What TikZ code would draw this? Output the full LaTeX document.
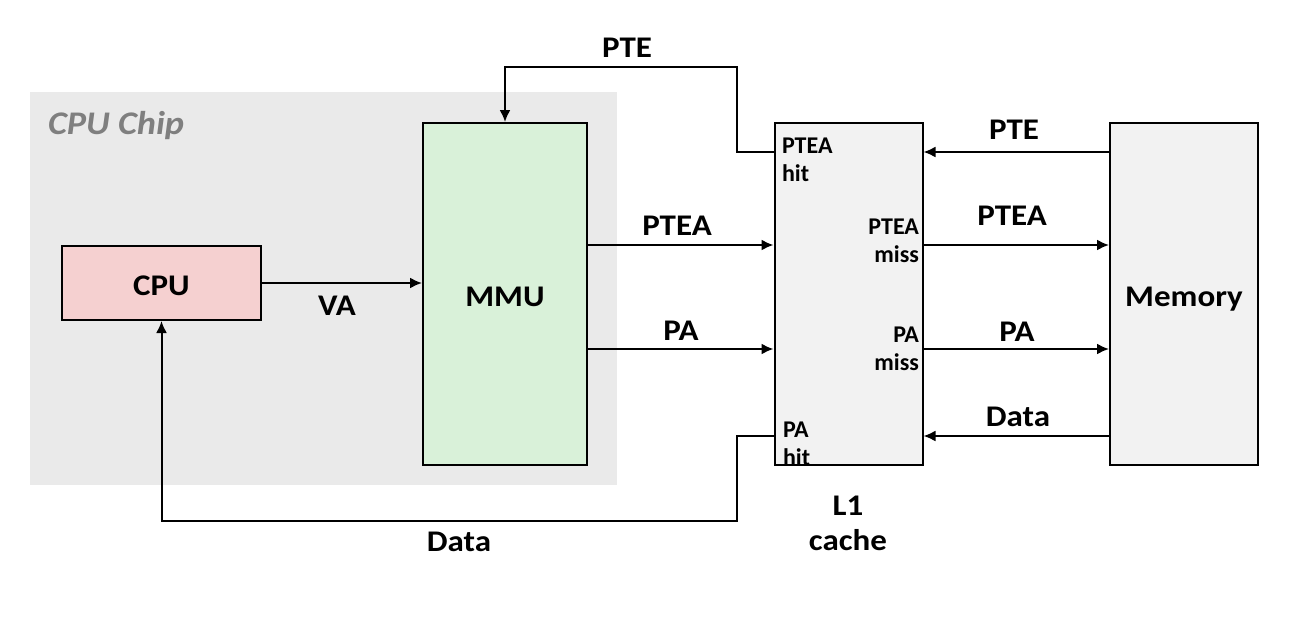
\documentclass[tikz,border=0pt]{standalone}
\usepackage{fontspec}
\setmainfont{Carlito}
\newfontfamily\widefont{Carlito}[FakeStretch=1.1]
\usetikzlibrary{arrows.meta}
\definecolor{chipgray}{HTML}{EAEAEA}
\definecolor{chiptext}{HTML}{7F7F7F}
\definecolor{cpupink}{HTML}{F5D0D0}
\definecolor{mmugreen}{HTML}{D9F1D9}
\definecolor{boxgray}{HTML}{F2F2F2}

\begin{document}
\begin{tikzpicture}[x=1pt, y=-1pt, line width=2pt,
	every node/.style={inner sep=0pt, font=\widefont\fontsize{30}{35}\selectfont\bfseries},
	unit/.style={draw=black, line width=2pt, rectangle, fill=boxgray, text height=25pt, text depth=0pt},
	tag/.style={font=\fontsize{24}{28}\selectfont\bfseries, align=left},
	link/.style={-{Latex[length=12pt, width=11pt]}}]
			\useasboundingbox (0,0) rectangle (1296,619);
			\fill[chipgray] (30,92) rectangle (617,485);
			\node[text=chiptext, anchor=base west, font=\widefont\fontsize{33}{38}\selectfont\bfseries\itshape] (chip) at (47,134) {CPU Chip};
			
			\node[unit, fill=cpupink, minimum width=199pt, minimum height=74pt] (cpu) at (161.5,283) {CPU};
			\node[unit, fill=mmugreen, minimum width=164pt, minimum height=342pt] (mmu) at (505,294) {MMU};
			\node[unit, minimum width=148pt, minimum height=342pt] (l1) at (848.5,294) {};
			\node[unit, minimum width=148pt, minimum height=342pt] (mem) at (1184,294) {Memory};
			
			\coordinate (pteY) at (0,152);
			\coordinate (pteaY) at (0,245);
			\coordinate (paY) at (0,349);
			\coordinate (dataY) at (0,436);
			\coordinate (pteTurn) at (737,67);
			\coordinate (dataTurn) at (737,521);
			
			\draw[link] (cpu.east) -- (mmu.west |- cpu.east);
			\draw[link] (mmu.east |- pteaY) -- (l1.west |- pteaY);
			\draw[link] (mmu.east |- paY) -- (l1.west |- paY);
			\draw[link] (l1.west |- pteY) -| (pteTurn) -| (mmu.north);
			\draw[link] (l1.west |- dataY) -| (dataTurn) -| (cpu.south);
			\draw[link] (mem.west |- pteY) -- (l1.east |- pteY);
			\draw[link] (l1.east |- pteaY) -- (mem.west |- pteaY);
			\draw[link] (l1.east |- paY) -- (mem.west |- paY);
			\draw[link] (mem.west |- dataY) -- (l1.east |- dataY);
			
			\node[anchor=base] (pteback) at (627,57) {PTE};
			\node[anchor=base] (va) at (337,315) {VA};
			\node[anchor=base] (ptealeft) at (677,235) {PTEA};
			\node[anchor=base] (paleft) at (681,340) {PA};
			\node[anchor=base] (databack) at (459,551) {Data};
			\node[anchor=base] (pteright) at (1014,139) {PTE};
			\node[anchor=base] (ptearight) at (1012,225) {PTEA};
			\node[anchor=base] (paright) at (1017,341) {PA};
			\node[anchor=base] (dataright) at (1018,426) {Data};
			\node[anchor=base, align=center] (l1name) at (848,550) {L1\\cache};
			
			\node[tag, anchor=base west] (pteahit) at (781,181) {PTEA\\hit};
			\node[tag, anchor=base east, align=right] (pteamiss) at (920,262) {PTEA\\miss};
			\node[tag, anchor=base east, align=right] (pamiss) at (920,370) {PA\\miss};
			\node[tag, anchor=base west] (pahit) at (782,465) {PA\\hit};
			\end{tikzpicture}
\end{document}
